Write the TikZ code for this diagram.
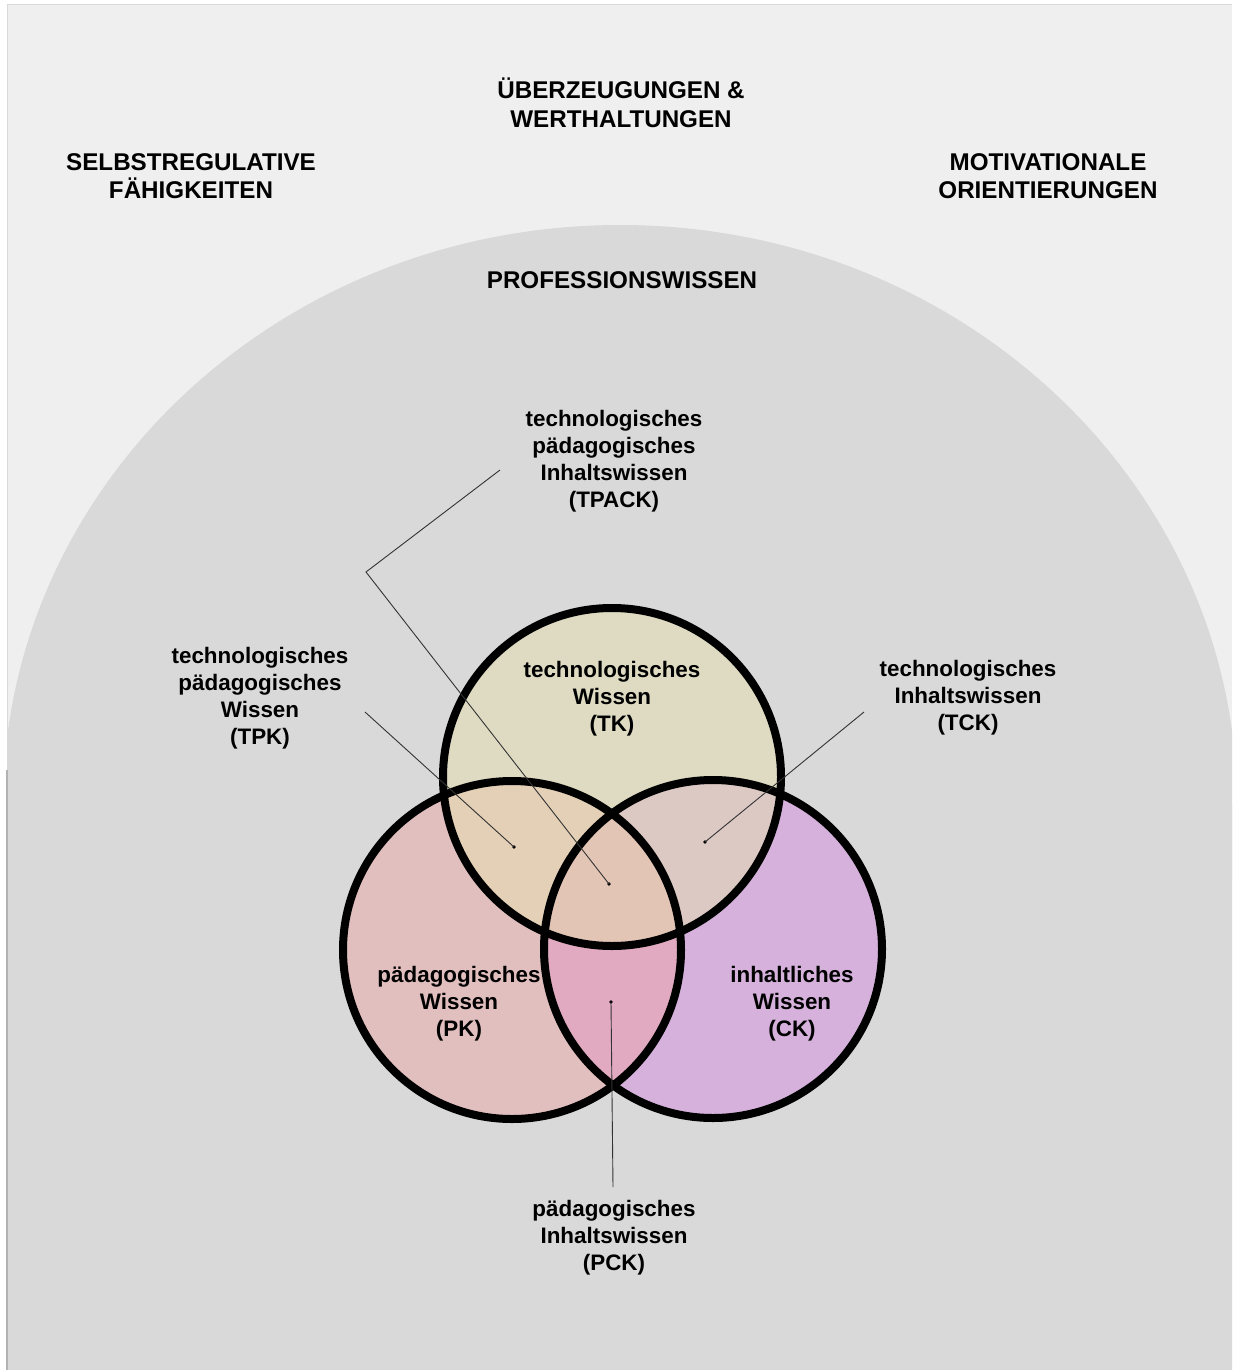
\documentclass[tikz,border=0pt]{standalone}
\usepackage{fontspec}
\setmainfont{Liberation Sans}
\begin{document}
\begin{tikzpicture}[x=1pt,y=-1pt,
  label/.style={font=\bfseries\fontsize{22.4}{27}\selectfont, align=center, inner sep=0pt, text=black},
  heading/.style={font=\bfseries\fontsize{24.2}{28.5}\selectfont, align=center, inner sep=0pt, text=black},
  leader/.style={draw=black!80, line width=0.9pt},
  dot/.style={circle, fill=black, inner sep=0pt, minimum size=3.6pt},
  ring/.style={draw=black, line width=8pt}]
\definecolor{panel}{HTML}{EFEFEF}
\definecolor{dome}{HTML}{D9D9D9}
\definecolor{tkfill}{HTML}{DEDBC2}
\definecolor{pkfill}{HTML}{E2BFBF}
\definecolor{ckfill}{HTML}{D5B1DC}
\definecolor{tpkfill}{HTML}{E3D0B6}
\definecolor{tckfill}{HTML}{DCC9C4}
\definecolor{pckfill}{HTML}{E1AAC1}
\definecolor{allfill}{HTML}{E3C5B5}

% page and outer panel
\fill[white] (0,0) rectangle (1232,1370);
\useasboundingbox (0,0) rectangle (1232,1370);
\fill[panel] (7,5) rectangle (1232,1370);
\draw[draw=black!15, line width=1pt] (7,1370) -- (7,5) -- (1232,5);

% dome of professional knowledge
\begin{scope}
  \clip (7,5) rectangle (1232,1370);
  \fill[dome] (620,805) ellipse [x radius=617pt, y radius=580pt];
  \fill[dome] (3,805) rectangle (1237,1370);
\end{scope}
\draw[draw=black!30, line width=1.2pt] (7,770) -- (7,1370);

% circle centres
\coordinate (ctk) at (612,777);
\coordinate (cpk) at (512,950);
\coordinate (cck) at (713,949);

% fills of the three circles and their overlaps
\fill[tkfill] (ctk) circle[radius=169pt];
\fill[pkfill] (cpk) circle[radius=169pt];
\fill[ckfill] (cck) circle[radius=169pt];
\begin{scope}
  \clip (ctk) circle[radius=169pt];
  \fill[tpkfill] (cpk) circle[radius=169pt];
  \fill[tckfill] (cck) circle[radius=169pt];
\end{scope}
\begin{scope}
  \clip (cpk) circle[radius=169pt];
  \fill[pckfill] (cck) circle[radius=169pt];
  \clip (cck) circle[radius=169pt];
  \fill[allfill] (ctk) circle[radius=169pt];
\end{scope}

% outlines
\draw[ring] (ctk) circle[radius=169pt];
\draw[ring] (cpk) circle[radius=169pt];
\draw[ring] (cck) circle[radius=169pt];

% headings
\node[heading] (beliefs) at (621,103) {ÜBERZEUGUNGEN \&\\WERTHALTUNGEN};
\node[heading] (selfreg) at (191,176) {SELBSTREGULATIVE\\FÄHIGKEITEN};
\node[heading] (motiv) at (1048,176) {MOTIVATIONALE\\ORIENTIERUNGEN};
\node[heading] (prof) at (622,280) {PROFESSIONSWISSEN};

% circle labels
\node[label] (tk) at (612,699) {technologisches\\Wissen\\(TK)};
\node[label] (pk) at (459,1004) {pädagogisches\\Wissen\\(PK)};
\node[label] (ck) at (792,1004) {inhaltliches\\Wissen\\(CK)};

% overlap labels
\node[label] (tpack) at (614,461) {technologisches\\pädagogisches\\Inhaltswissen\\(TPACK)};
\node[label] (tpk) at (260,698) {technologisches\\pädagogisches\\Wissen\\(TPK)};
\node[label] (tck) at (968,698) {technologisches\\Inhaltswissen\\(TCK)};
\node[label] (pck) at (614,1238) {pädagogisches\\Inhaltswissen\\(PCK)};

% leader lines with end dots
\node[dot] (dtpack) at (609,884) {};
\node[dot] (dtpk) at (514,847) {};
\node[dot] (dtck) at (705,842) {};
\node[dot] (dpck) at (611,1002) {};
\coordinate (tpackstart) at (500,470);
\coordinate (tpackbend) at (366,572);
\coordinate (tpkstart) at (365,712);
\coordinate (tckstart) at (864,712);
\coordinate (pckstart) at (613,1187);
\draw[leader] (tpackstart) -- (tpackbend) -- (dtpack.center);
\draw[leader] (tpkstart) -- (dtpk.center);
\draw[leader] (tckstart) -- (dtck.center);
\draw[leader] (pckstart) -- (dpck.center);
\end{tikzpicture}
\end{document}
